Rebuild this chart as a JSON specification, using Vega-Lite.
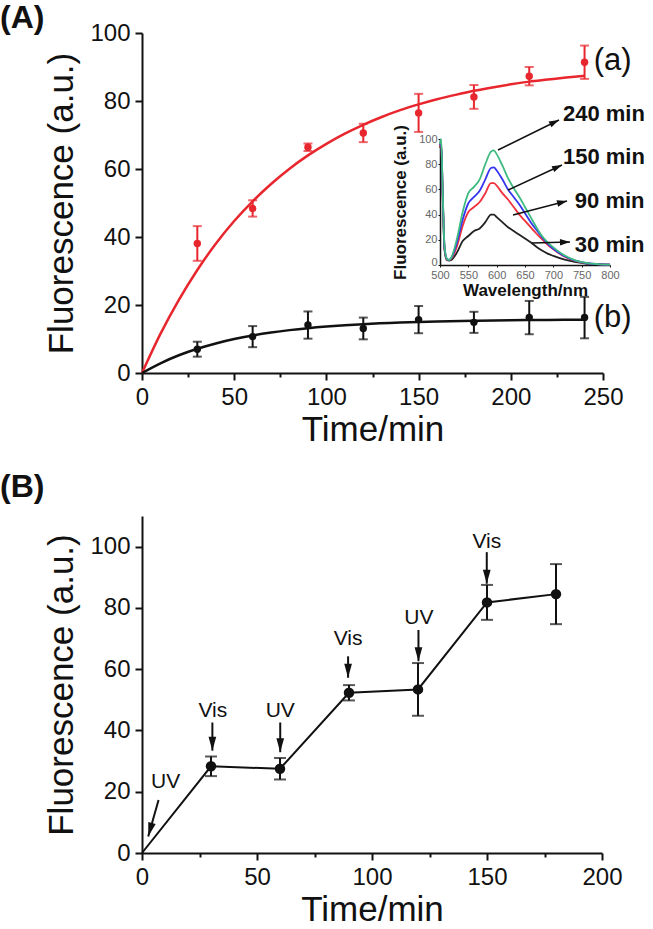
{
  "$schema": "https://vega.github.io/schema/vega-lite/v6.json",
  "background": "white",
  "padding": {"left": 0, "top": 2, "right": 0, "bottom": 0},
  "spacing": 24,
  "config": {
    "view": {"stroke": null},
    "font": "Liberation Sans",
    "axis": {"grid": false, "domainColor": "#111", "domainWidth": 2, "tickColor": "#111", "tickWidth": 2, "labelFont": "Liberation Sans", "labelFontSize": 24, "labelColor": "#111", "titleFont": "Liberation Sans", "titleFontSize": 35, "titleFontWeight": "normal", "titleColor": "#111", "labelPadding": 5, "labelFlush": false, "labelOverlap": false},
    "title": {"font": "Liberation Sans", "fontSize": 32, "fontWeight": "bold", "color": "#111", "anchor": "start", "frame": "group"}
  },
  "datasets": {
    "curveA": [
      {"t":0,"v":0,"s":"a"},{"t":10,"v":11.5,"s":"a"},{"t":20,"v":21.5,"s":"a"},{"t":30,"v":30.3,"s":"a"},{"t":40,"v":38.0,"s":"a"},{"t":50,"v":44.7,"s":"a"},{"t":60,"v":50.5,"s":"a"},{"t":70,"v":55.6,"s":"a"},{"t":80,"v":60.1,"s":"a"},{"t":90,"v":64.0,"s":"a"},{"t":100,"v":67.4,"s":"a"},{"t":110,"v":70.4,"s":"a"},{"t":120,"v":73.0,"s":"a"},{"t":130,"v":75.3,"s":"a"},{"t":140,"v":77.3,"s":"a"},{"t":150,"v":79.0,"s":"a"},{"t":160,"v":80.5,"s":"a"},{"t":170,"v":81.8,"s":"a"},{"t":180,"v":83.0,"s":"a"},{"t":190,"v":84.0,"s":"a"},{"t":200,"v":84.9,"s":"a"},{"t":210,"v":85.7,"s":"a"},{"t":220,"v":86.3,"s":"a"},{"t":230,"v":86.9,"s":"a"},{"t":240,"v":87.4,"s":"a"},
      {"t":0,"v":0,"s":"b"},{"t":10,"v":2.86,"s":"b"},{"t":20,"v":5.21,"s":"b"},{"t":30,"v":7.13,"s":"b"},{"t":40,"v":8.7,"s":"b"},{"t":50,"v":9.99,"s":"b"},{"t":60,"v":11.04,"s":"b"},{"t":70,"v":11.9,"s":"b"},{"t":80,"v":12.61,"s":"b"},{"t":90,"v":13.19,"s":"b"},{"t":100,"v":13.66,"s":"b"},{"t":110,"v":14.05,"s":"b"},{"t":120,"v":14.37,"s":"b"},{"t":140,"v":14.84,"s":"b"},{"t":160,"v":15.16,"s":"b"},{"t":180,"v":15.37,"s":"b"},{"t":200,"v":15.51,"s":"b"},{"t":220,"v":15.61,"s":"b"},{"t":240,"v":15.67,"s":"b"}
    ],
    "ptsA": [
      {"t":30,"v":38.1,"err":5.1,"s":"a"},{"t":60,"v":48.4,"err":2.4,"s":"a"},{"t":90,"v":66.4,"err":1.1,"s":"a"},{"t":120,"v":70.6,"err":2.7,"s":"a"},{"t":150,"v":76.5,"err":5.6,"s":"a"},{"t":180,"v":81.2,"err":3.5,"s":"a"},{"t":210,"v":87.3,"err":2.7,"s":"a"},{"t":240,"v":91.4,"err":4.9,"s":"a"},
      {"t":30,"v":7.0,"err":2.2,"s":"b"},{"t":60,"v":10.7,"err":3.1,"s":"b"},{"t":90,"v":14.1,"err":4.0,"s":"b"},{"t":120,"v":13.1,"err":3.2,"s":"b"},{"t":150,"v":15.7,"err":4.0,"s":"b"},{"t":180,"v":14.9,"err":3.1,"s":"b"},{"t":210,"v":16.3,"err":4.9,"s":"b"},{"t":240,"v":16.3,"err":6.1,"s":"b"}
    ],
    "labA": [{"t":245,"v":91.7,"txt":"(a)"},{"t":245,"v":16.3,"txt":"(b)"}],
    "spec": [
      {"wl":500,"f":93,"time":"30 min"},{"wl":502,"f":96,"time":"30 min"},{"wl":505,"f":50,"time":"30 min"},{"wl":508,"f":12,"time":"30 min"},{"wl":512,"f":4,"time":"30 min"},{"wl":516,"f":3.5,"time":"30 min"},{"wl":520,"f":4,"time":"30 min"},{"wl":530,"f":10,"time":"30 min"},{"wl":540,"f":19,"time":"30 min"},{"wl":550,"f":23,"time":"30 min"},{"wl":560,"f":27,"time":"30 min"},{"wl":570,"f":29,"time":"30 min"},{"wl":580,"f":34,"time":"30 min"},{"wl":590,"f":40,"time":"30 min"},{"wl":595,"f":40,"time":"30 min"},{"wl":600,"f":38,"time":"30 min"},{"wl":610,"f":34,"time":"30 min"},{"wl":620,"f":30,"time":"30 min"},{"wl":630,"f":27,"time":"30 min"},{"wl":640,"f":24,"time":"30 min"},{"wl":650,"f":21,"time":"30 min"},{"wl":660,"f":18,"time":"30 min"},{"wl":670,"f":14.5,"time":"30 min"},{"wl":680,"f":11.5,"time":"30 min"},{"wl":690,"f":9,"time":"30 min"},{"wl":700,"f":7.2,"time":"30 min"},{"wl":720,"f":4.2,"time":"30 min"},{"wl":740,"f":2.2,"time":"30 min"},{"wl":760,"f":1,"time":"30 min"},{"wl":780,"f":0.5,"time":"30 min"},{"wl":800,"f":0.3,"time":"30 min"},
      {"wl":500,"f":94,"time":"90 min"},{"wl":502,"f":97,"time":"90 min"},{"wl":505,"f":52,"time":"90 min"},{"wl":508,"f":13,"time":"90 min"},{"wl":512,"f":4.5,"time":"90 min"},{"wl":516,"f":3.8,"time":"90 min"},{"wl":520,"f":5,"time":"90 min"},{"wl":530,"f":15,"time":"90 min"},{"wl":540,"f":31,"time":"90 min"},{"wl":550,"f":42,"time":"90 min"},{"wl":560,"f":46,"time":"90 min"},{"wl":570,"f":50,"time":"90 min"},{"wl":580,"f":57,"time":"90 min"},{"wl":590,"f":65,"time":"90 min"},{"wl":595,"f":65,"time":"90 min"},{"wl":600,"f":63,"time":"90 min"},{"wl":610,"f":57,"time":"90 min"},{"wl":620,"f":52,"time":"90 min"},{"wl":630,"f":46,"time":"90 min"},{"wl":640,"f":40,"time":"90 min"},{"wl":650,"f":35,"time":"90 min"},{"wl":660,"f":30,"time":"90 min"},{"wl":670,"f":25,"time":"90 min"},{"wl":680,"f":20.5,"time":"90 min"},{"wl":690,"f":16,"time":"90 min"},{"wl":700,"f":12.5,"time":"90 min"},{"wl":720,"f":6.5,"time":"90 min"},{"wl":740,"f":3,"time":"90 min"},{"wl":760,"f":1.3,"time":"90 min"},{"wl":780,"f":0.6,"time":"90 min"},{"wl":800,"f":0.3,"time":"90 min"},
      {"wl":500,"f":95,"time":"150 min"},{"wl":502,"f":98,"time":"150 min"},{"wl":505,"f":53,"time":"150 min"},{"wl":508,"f":14,"time":"150 min"},{"wl":512,"f":5,"time":"150 min"},{"wl":516,"f":4,"time":"150 min"},{"wl":520,"f":5.5,"time":"150 min"},{"wl":530,"f":18,"time":"150 min"},{"wl":540,"f":36,"time":"150 min"},{"wl":550,"f":49,"time":"150 min"},{"wl":560,"f":54,"time":"150 min"},{"wl":570,"f":59,"time":"150 min"},{"wl":580,"f":68,"time":"150 min"},{"wl":590,"f":77,"time":"150 min"},{"wl":595,"f":77.5,"time":"150 min"},{"wl":600,"f":75,"time":"150 min"},{"wl":610,"f":68,"time":"150 min"},{"wl":620,"f":60,"time":"150 min"},{"wl":630,"f":54,"time":"150 min"},{"wl":640,"f":48,"time":"150 min"},{"wl":650,"f":41,"time":"150 min"},{"wl":660,"f":34,"time":"150 min"},{"wl":670,"f":28,"time":"150 min"},{"wl":680,"f":22,"time":"150 min"},{"wl":690,"f":17,"time":"150 min"},{"wl":700,"f":12.8,"time":"150 min"},{"wl":720,"f":7,"time":"150 min"},{"wl":740,"f":3.2,"time":"150 min"},{"wl":760,"f":1.4,"time":"150 min"},{"wl":780,"f":0.6,"time":"150 min"},{"wl":800,"f":0.3,"time":"150 min"},
      {"wl":500,"f":96,"time":"240 min"},{"wl":502,"f":100,"time":"240 min"},{"wl":505,"f":55,"time":"240 min"},{"wl":508,"f":15,"time":"240 min"},{"wl":512,"f":5,"time":"240 min"},{"wl":516,"f":4,"time":"240 min"},{"wl":520,"f":6,"time":"240 min"},{"wl":530,"f":21,"time":"240 min"},{"wl":540,"f":42,"time":"240 min"},{"wl":550,"f":57,"time":"240 min"},{"wl":560,"f":62,"time":"240 min"},{"wl":570,"f":68,"time":"240 min"},{"wl":580,"f":80,"time":"240 min"},{"wl":590,"f":90,"time":"240 min"},{"wl":595,"f":91,"time":"240 min"},{"wl":600,"f":88,"time":"240 min"},{"wl":610,"f":79,"time":"240 min"},{"wl":620,"f":69,"time":"240 min"},{"wl":630,"f":61,"time":"240 min"},{"wl":640,"f":54,"time":"240 min"},{"wl":650,"f":46,"time":"240 min"},{"wl":660,"f":38,"time":"240 min"},{"wl":670,"f":30,"time":"240 min"},{"wl":680,"f":23,"time":"240 min"},{"wl":690,"f":18,"time":"240 min"},{"wl":700,"f":14,"time":"240 min"},{"wl":720,"f":7.5,"time":"240 min"},{"wl":740,"f":3.5,"time":"240 min"},{"wl":760,"f":1.5,"time":"240 min"},{"wl":780,"f":0.7,"time":"240 min"},{"wl":800,"f":0.3,"time":"240 min"}
    ],
    "insArr": [
      {"id":"240","x1":602.4,"y1":91.3,"x2":710,"y2":115.1},
      {"id":"150","x1":620,"y1":59.5,"x2":715.3,"y2":79.4},
      {"id":"90","x1":628.8,"y1":39.7,"x2":724.1,"y2":50.8},
      {"id":"30","x1":662.4,"y1":17.5,"x2":729.4,"y2":18.3}
    ],
    "insLab": [
      {"txt":"240 min","wl":717,"f":119.8},
      {"txt":"150 min","wl":717,"f":85.7},
      {"txt":"90 min","wl":738,"f":50.8},
      {"txt":"30 min","wl":738,"f":15.9}
    ],
    "B": [
      {"t":0,"v":0,"err":0},{"t":30,"v":28.3,"err":3.2},{"t":60,"v":27.5,"err":3.5},{"t":90,"v":52.3,"err":2.5},{"t":120,"v":53.4,"err":8.6},{"t":150,"v":81.8,"err":5.7},{"t":180,"v":84.5,"err":9.8}
    ],
    "Barr": [
      {"id":"UV0","t1":7.2,"y1":17.3,"t2":2.7,"y2":5.4},
      {"id":"Vis30","t1":30.6,"y1":42.6,"t2":30.6,"y2":33.4},
      {"id":"UV60","t1":60.1,"y1":42.6,"t2":60.1,"y2":32.9},
      {"id":"Vis90","t1":89.6,"y1":64.2,"t2":89.6,"y2":57.2},
      {"id":"UV120","t1":120.2,"y1":72.8,"t2":120.2,"y2":62.6},
      {"id":"Vis150","t1":149.9,"y1":98.2,"t2":149.9,"y2":87.9}
    ],
    "Blab": [
      {"txt":"UV","t":10.3,"v":23.2},{"txt":"Vis","t":30.8,"v":46.4},{"txt":"UV","t":60.1,"v":46.4},{"txt":"Vis","t":89.6,"v":69.8},{"txt":"UV","t":120.4,"v":76.6},{"txt":"Vis","t":149.9,"v":101.4}
    ]
  },
  "vconcat": [
    {
      "width": 461,
      "height": 340,
      "title": {"text": "(A)", "dx": -142, "offset": -14},
      "layer": [
        {
          "layer": [
            {
              "data": {"name": "curveA"},
              "mark": {"type": "line", "strokeWidth": 2.5, "interpolate": "monotone"},
              "encoding": {
                "x": {"field": "t", "type": "quantitative", "title": "Time/min", "scale": {"domain": [0, 250], "nice": false},
                  "axis": {"orient": "bottom", "titlePadding": 3, "values": [0,25,50,75,100,125,150,175,200,225,250],
                    "labelExpr": "datum.value % 50 === 0 ? datum.label : ''",
                    "tickSize": {"condition": {"test": "datum.value % 50 !== 0", "value": 4}, "value": 7}}},
                "y": {"field": "v", "type": "quantitative", "title": "Fluorescence (a.u.)", "scale": {"domain": [0, 100], "nice": false},
                  "axis": {"orient": "left", "titlePadding": 10, "values": [0,10,20,30,40,50,60,70,80,90,100],
                    "labelExpr": "datum.value % 20 === 0 ? datum.label : ''",
                    "tickSize": {"condition": {"test": "datum.value % 20 !== 0", "value": 4}, "value": 7}}},
                "color": {"field": "s", "type": "nominal", "scale": {"domain": ["a", "b"], "range": ["#e8262d", "#111111"]}, "legend": null}
              }
            },
            {
              "data": {"name": "ptsA"},
              "mark": {"type": "errorbar", "ticks": {"size": 9, "thickness": 2}, "thickness": 2},
              "encoding": {
                "x": {"field": "t", "type": "quantitative", "title": "Time/min"},
                "y": {"field": "v", "type": "quantitative", "title": "Fluorescence (a.u.)"},
                "yError": {"field": "err"},
                "color": {"field": "s", "type": "nominal", "legend": null}
              }
            },
            {
              "data": {"name": "ptsA"},
              "mark": {"type": "point", "filled": true, "size": 55, "opacity": 1},
              "encoding": {
                "x": {"field": "t", "type": "quantitative", "title": "Time/min"},
                "y": {"field": "v", "type": "quantitative", "title": "Fluorescence (a.u.)"},
                "color": {"field": "s", "type": "nominal", "legend": null}
              }
            },
            {
              "data": {"name": "labA"},
              "mark": {"type": "text", "align": "left", "baseline": "middle", "fontSize": 31, "color": "#111"},
              "encoding": {
                "x": {"field": "t", "type": "quantitative", "title": "Time/min"},
                "y": {"field": "v", "type": "quantitative", "title": "Fluorescence (a.u.)"},
                "text": {"field": "txt"}
              }
            }
          ]
        },
        {
          "layer": [
            {
              "data": {"name": "spec"},
              "mark": {"type": "line", "strokeWidth": 1.8, "interpolate": "monotone"},
              "encoding": {
                "x": {"field": "wl", "type": "quantitative", "title": "Wavelength/nm", "scale": {"domain": [500, 800], "range": [298, 468], "nice": false, "zero": false},
                  "axis": {"orient": "bottom", "offset": -108, "values": [500,550,600,650,700,750,800], "tickSize": 2, "tickWidth": 1, "domainWidth": 1.5,
                    "labelFontSize": 11, "labelColor": "#666", "labelPadding": 2,
                    "titleFontSize": 17, "titleFontWeight": "bold", "titlePadding": 2}},
                "y": {"field": "f", "type": "quantitative", "title": "Fluorescence (a.u.)", "scale": {"domain": [0, 100], "range": [232, 106], "nice": false},
                  "axis": {"orient": "left", "offset": -298, "values": [0,20,40,60,80,100], "tickSize": 2, "tickWidth": 1, "domainWidth": 1.5,
                    "labelFontSize": 11, "labelColor": "#666", "labelPadding": 1,
                    "labelBaseline": {"condition": {"test": "datum.value === 0", "value": "alphabetic"}, "value": "middle"},
                    "titleFontSize": 17, "titleFontWeight": "bold", "titlePadding": 9}},
                "color": {"field": "time", "type": "nominal", "scale": {"domain": ["30 min", "90 min", "150 min", "240 min"], "range": ["#222222", "#f0303a", "#3535f0", "#3dbb80"]}, "legend": null}
              }
            },
            {
              "data": {"name": "insArr"},
              "mark": {"type": "rule", "strokeWidth": 1.5, "color": "#111"},
              "encoding": {
                "x": {"field": "x1", "type": "quantitative", "title": "Wavelength/nm"},
                "y": {"field": "y1", "type": "quantitative", "title": "Fluorescence (a.u.)"},
                "x2": {"field": "x2"},
                "y2": {"field": "y2"}
              }
            },
            {
              "data": {"name": "insArr"},
              "transform": [{"filter": "datum.id === '240'"}],
              "mark": {"type": "point", "shape": "M0,0L-0.65,2L0.65,2Z", "filled": true, "opacity": 1, "size": 100, "color": "#111", "angle": 63.8},
              "encoding": {"x": {"field": "x2", "type": "quantitative", "title": "Wavelength/nm"}, "y": {"field": "y2", "type": "quantitative", "title": "Fluorescence (a.u.)"}}
            },
            {
              "data": {"name": "insArr"},
              "transform": [{"filter": "datum.id === '150'"}],
              "mark": {"type": "point", "shape": "M0,0L-0.65,2L0.65,2Z", "filled": true, "opacity": 1, "size": 100, "color": "#111", "angle": 65.2},
              "encoding": {"x": {"field": "x2", "type": "quantitative", "title": "Wavelength/nm"}, "y": {"field": "y2", "type": "quantitative", "title": "Fluorescence (a.u.)"}}
            },
            {
              "data": {"name": "insArr"},
              "transform": [{"filter": "datum.id === '90'"}],
              "mark": {"type": "point", "shape": "M0,0L-0.65,2L0.65,2Z", "filled": true, "opacity": 1, "size": 100, "color": "#111", "angle": 75.5},
              "encoding": {"x": {"field": "x2", "type": "quantitative", "title": "Wavelength/nm"}, "y": {"field": "y2", "type": "quantitative", "title": "Fluorescence (a.u.)"}}
            },
            {
              "data": {"name": "insArr"},
              "transform": [{"filter": "datum.id === '30'"}],
              "mark": {"type": "point", "shape": "M0,0L-0.65,2L0.65,2Z", "filled": true, "opacity": 1, "size": 100, "color": "#111", "angle": 88.5},
              "encoding": {"x": {"field": "x2", "type": "quantitative", "title": "Wavelength/nm"}, "y": {"field": "y2", "type": "quantitative", "title": "Fluorescence (a.u.)"}}
            },
            {
              "data": {"name": "insLab"},
              "mark": {"type": "text", "align": "left", "baseline": "middle", "fontSize": 22, "fontWeight": "bold", "color": "#111"},
              "encoding": {
                "x": {"field": "wl", "type": "quantitative", "title": "Wavelength/nm"},
                "y": {"field": "f", "type": "quantitative", "title": "Fluorescence (a.u.)"},
                "text": {"field": "txt"}
              }
            }
          ]
        }
      ],
      "resolve": {"scale": {"x": "independent", "y": "independent", "color": "independent"}, "axis": {"x": "independent", "y": "independent"}}
    },
    {
      "width": 460,
      "height": 337,
      "title": {"text": "(B)", "dx": -142, "offset": 12},
      "data": {"name": "B"},
      "layer": [
        {
          "mark": {"type": "line", "strokeWidth": 2, "color": "#111"},
          "encoding": {
            "x": {"field": "t", "type": "quantitative", "title": "Time/min", "scale": {"domain": [0, 200], "nice": false},
              "axis": {"orient": "bottom", "titlePadding": 3, "values": [0,25,50,75,100,125,150,175,200],
                "labelExpr": "datum.value % 50 === 0 ? datum.label : ''",
                "tickSize": {"condition": {"test": "datum.value % 50 !== 0", "value": 4}, "value": 7}}},
            "y": {"field": "v", "type": "quantitative", "title": "Fluorescence (a.u.)", "scale": {"domain": [0, 110], "nice": false},
              "axis": {"orient": "left", "titlePadding": 10, "values": [0,10,20,30,40,50,60,70,80,90,100,110],
                "labelExpr": "datum.value % 20 === 0 && datum.value <= 100 ? datum.label : ''",
                "tickSize": {"condition": {"test": "datum.value % 20 !== 0", "value": 4}, "value": 7}}}
          }
        },
        {
          "transform": [{"filter": "datum.t > 0"}],
          "mark": {"type": "errorbar", "ticks": {"size": 12, "thickness": 2}, "thickness": 2, "color": "#111"},
          "encoding": {
            "x": {"field": "t", "type": "quantitative", "title": "Time/min"},
            "y": {"field": "v", "type": "quantitative", "title": "Fluorescence (a.u.)"},
            "yError": {"field": "err"}
          }
        },
        {
          "transform": [{"filter": "datum.t > 0"}],
          "mark": {"type": "point", "filled": true, "size": 110, "opacity": 1, "color": "#111"},
          "encoding": {
            "x": {"field": "t", "type": "quantitative", "title": "Time/min"},
            "y": {"field": "v", "type": "quantitative", "title": "Fluorescence (a.u.)"}
          }
        },
        {
          "data": {"name": "Barr"},
          "mark": {"type": "rule", "strokeWidth": 2, "color": "#111"},
          "encoding": {
            "x": {"field": "t1", "type": "quantitative", "title": "Time/min"},
            "y": {"field": "y1", "type": "quantitative", "title": "Fluorescence (a.u.)"},
            "x2": {"field": "t2"},
            "y2": {"field": "y2"}
          }
        },
        {
          "data": {"name": "Barr"},
          "transform": [{"filter": "datum.id !== 'UV0'"}],
          "mark": {"type": "point", "shape": "M0,0L-0.55,2L0.55,2Z", "filled": true, "opacity": 1, "size": 196, "color": "#111", "angle": 180},
          "encoding": {"x": {"field": "t2", "type": "quantitative", "title": "Time/min"}, "y": {"field": "y2", "type": "quantitative", "title": "Fluorescence (a.u.)"}}
        },
        {
          "data": {"name": "Barr"},
          "transform": [{"filter": "datum.id === 'UV0'"}],
          "mark": {"type": "point", "shape": "M0,0L-0.55,2L0.55,2Z", "filled": true, "opacity": 1, "size": 196, "color": "#111", "angle": 195.6},
          "encoding": {"x": {"field": "t2", "type": "quantitative", "title": "Time/min"}, "y": {"field": "y2", "type": "quantitative", "title": "Fluorescence (a.u.)"}}
        },
        {
          "data": {"name": "Blab"},
          "mark": {"type": "text", "align": "center", "baseline": "middle", "fontSize": 21, "color": "#111"},
          "encoding": {
            "x": {"field": "t", "type": "quantitative", "title": "Time/min"},
            "y": {"field": "v", "type": "quantitative", "title": "Fluorescence (a.u.)"},
            "text": {"field": "txt"}
          }
        }
      ]
    }
  ]
}
